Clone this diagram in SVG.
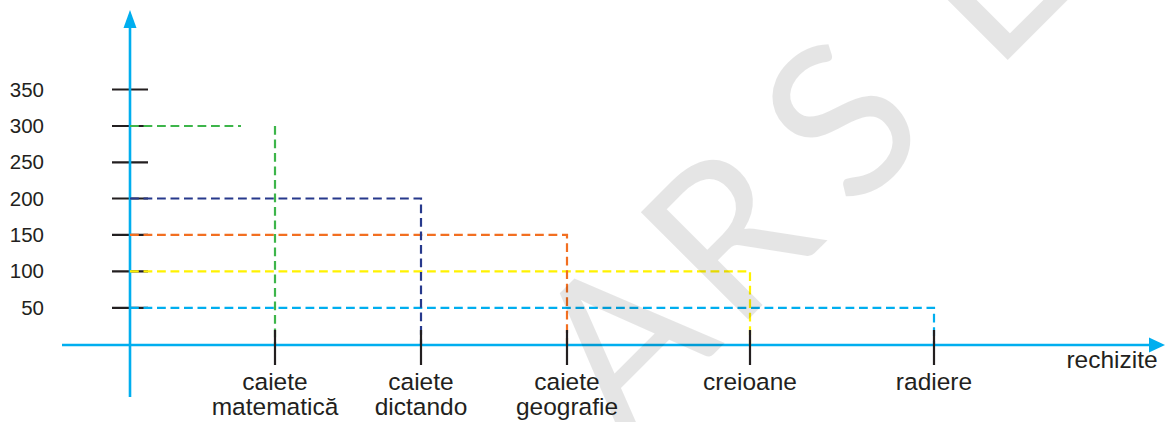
<svg xmlns="http://www.w3.org/2000/svg" width="1165" height="422" viewBox="0 0 1165 422">
<style>
.lbl{font-family:"Liberation Sans",Arial,sans-serif;fill:#231f20}
.yl{font-size:20.5px;text-anchor:end}
.xl{font-size:24.5px;text-anchor:middle}
.tick{stroke:#231f20;stroke-width:2.2;fill:none}
.axis{stroke:#00aeef;stroke-width:2.6;fill:none}
.dash{stroke-width:2.2;fill:none;stroke-dasharray:8.8 4.7}
.wm{font-family:Lato,"DejaVu Sans",sans-serif;font-size:212px;fill:#000;fill-opacity:0.1}
</style>
<rect width="1165" height="422" fill="#fff"/>
<g id="y-ticks" class="tick">
<path d="M112,89.5H148M112,126H148M112,162.3H148M112,198.5H148M112,234.8H148M112,271.3H148M112,307.8H148"/>
</g>
<g id="y-labels" class="lbl yl">
<text x="44" y="96.5">350</text>
<text x="44" y="133">300</text>
<text x="44" y="169.3">250</text>
<text x="44" y="205.5">200</text>
<text x="44" y="241.8">150</text>
<text x="44" y="278.3">100</text>
<text x="44" y="314.8">50</text>
</g>
<g id="axes">
<path class="axis" d="M130,397V26"/>
<polygon points="130,10 123.5,28 136.5,28" fill="#00aeef"/>
<path class="axis" d="M62,345H1150"/>
<polygon points="1165,345 1149,337.5 1149,352.5" fill="#00aeef"/>
</g>
<g id="connectors">
<path class="dash" stroke="#00aeef" d="M130,307.8H934V345"/>
<path class="dash" stroke="#fff200" d="M130,271.3H750V345"/>
<path class="dash" stroke="#f26f21" d="M130,234.8H567V345"/>
<path class="dash" stroke="#27398c" d="M130,198.5H421V345"/>
<path class="dash" stroke="#3db54a" d="M130,126H241"/>
<path class="dash" stroke="#3db54a" d="M275,126V345"/>
</g>
<g id="x-ticks" class="tick">
<path d="M275,330V365M421,330V365M567,330V365M750,330V365M934,330V365"/>
</g>
<g id="node-matematica" class="lbl xl"><text x="275" y="390">caiete</text><text x="275" y="415">matematică</text></g>
<g id="node-dictando" class="lbl xl"><text x="421" y="390">caiete</text><text x="421" y="415">dictando</text></g>
<g id="node-geografie" class="lbl xl"><text x="567" y="390">caiete</text><text x="567" y="415">geografie</text></g>
<g id="node-creioane" class="lbl xl"><text x="750" y="390">creioane</text></g>
<g id="node-radiere" class="lbl xl"><text x="934" y="390">radiere</text></g>
<g id="axis-label" class="lbl xl"><text x="1112" y="368">rechizite</text></g>
<g id="watermark">
<text class="wm" transform="rotate(-45)" x="199 350 510 600 705" y="755" text-anchor="middle">ARS L</text>
</g>
</svg>
